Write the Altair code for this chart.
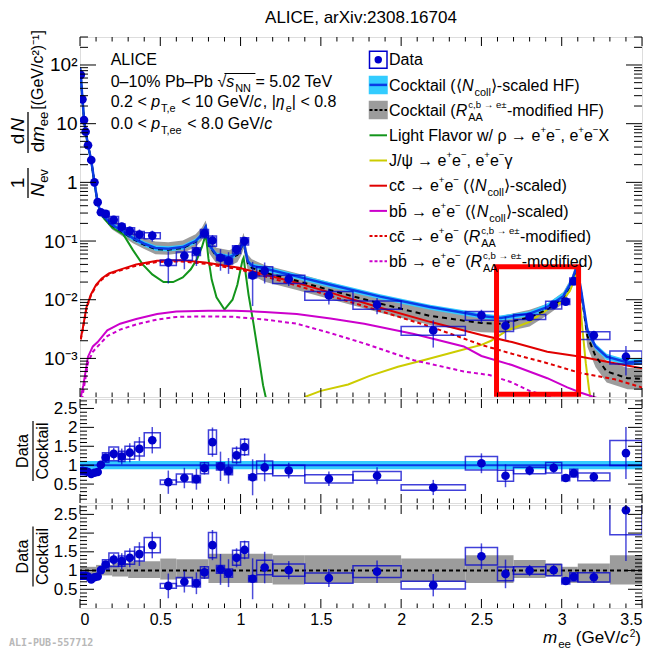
import altair as alt
import pandas as pd

FONT = "Liberation Sans"
W, H0, H1, H2 = 562, 360, 104, 103

DATA_BLUE = "#0000cc"
LINE_BLUE = "#0a3ce6"
CYAN = "#33ccff"
GRAY = "#9c9c9c"
GREEN = "#13951b"
YELLOW = "#cccc00"
RED = "#e00000"
MAGENTA = "#cc00cc"

# ---------------- measured data points ----------------
pt_m = [0.005, 0.015, 0.025, 0.035, 0.05, 0.07, 0.09, 0.11, 0.13, 0.16,
        0.21, 0.26, 0.31, 0.37, 0.45, 0.55, 0.65, 0.725, 0.775, 0.825,
        0.875, 0.925, 0.975, 1.025, 1.075, 1.15, 1.30, 1.55, 1.85, 2.20,
        2.50, 2.65, 2.80, 2.95, 3.025, 3.075, 3.20, 3.40]
pt_lo = [0.0, 0.01, 0.02, 0.03, 0.04, 0.06, 0.08, 0.10, 0.12, 0.14,
         0.18, 0.24, 0.28, 0.34, 0.40, 0.50, 0.60, 0.70, 0.75, 0.80,
         0.85, 0.90, 0.95, 1.00, 1.05, 1.10, 1.20, 1.40, 1.70, 2.00,
         2.40, 2.60, 2.70, 2.90, 3.00, 3.05, 3.10, 3.30]
pt_hi = [0.01, 0.02, 0.03, 0.04, 0.06, 0.08, 0.10, 0.12, 0.14, 0.18,
         0.24, 0.28, 0.34, 0.40, 0.50, 0.60, 0.70, 0.75, 0.80, 0.85,
         0.90, 0.95, 1.00, 1.05, 1.10, 1.20, 1.40, 1.70, 2.00, 2.40,
         2.60, 2.70, 2.90, 3.00, 3.05, 3.10, 3.30, 3.50]
pt_y = [68, 26, 11.5, 7.3, 4.3, 2.4, 1.0, 0.46, 0.31, 0.29,
        0.23, 0.176, 0.149, 0.129, 0.124, 0.043, 0.056, 0.067, 0.136, 0.102,
        0.052, 0.046, 0.072, 0.100, 0.026, 0.031, 0.0225, 0.0118, 0.0082, 0.0030,
        0.0054, 0.0036, 0.0051, 0.0082, 0.0093, 0.0207, 0.00248, 0.00107]
pt_stat = [0.03, 0.03, 0.03, 0.03, 0.03, 0.03, 0.03, 0.04, 0.05, 0.08,
           0.12, 0.17, 0.19, 0.22, 0.21, 0.56, 0.41, 0.44, 0.18, 0.24,
           0.40, 0.40, 0.19, 0.16, 0.70, 0.39, 0.24, 0.30, 0.31, 0.49,
           0.25, 0.42, 0.15, 0.14, 0.06, 0.06, 0.19, 0.52]
pt_syst = [0.05, 0.05, 0.05, 0.05, 0.05, 0.05, 0.05, 0.06, 0.07, 0.11,
           0.14, 0.11, 0.13, 0.13, 0.12, 0.11, 0.16, 0.15, 0.16, 0.20,
           0.10, 0.12, 0.15, 0.14, 0.10, 0.18, 0.16, 0.17, 0.16, 0.17,
           0.17, 0.20, 0.10, 0.15, 0.11, 0.13, 0.15, 0.25]
pt_r1 = [0.84, 0.85, 0.84, 0.84, 0.82, 0.77, 0.80, 0.82, 1.01, 1.20,
         1.30, 1.23, 1.33, 1.43, 1.66, 0.55, 0.66, 0.63, 0.92, 1.61,
         0.97, 0.85, 1.26, 1.48, 0.68, 0.94, 0.86, 0.64, 0.72, 0.41,
         1.05, 0.72, 0.86, 0.93, 0.66, 0.79, 0.69, 1.32]
pt_r2 = [0.86, 0.86, 0.86, 0.86, 0.84, 0.76, 0.82, 0.84, 1.01, 1.16,
         1.29, 1.25, 1.34, 1.44, 1.68, 0.59, 0.70, 0.66, 0.95, 1.68,
         1.03, 0.93, 1.34, 1.55, 0.78, 1.08, 1.01, 0.80, 0.97, 0.61,
         1.38, 0.91, 1.00, 1.01, 0.72, 0.83, 0.82, 2.61]

# ---------------- cocktails ----------------
cock_m = [0.0, 0.005, 0.015, 0.025, 0.035, 0.05, 0.07, 0.09, 0.11, 0.13,
          0.15, 0.2, 0.26, 0.33, 0.4, 0.47, 0.55, 0.64, 0.72, 0.76,
          0.775, 0.783, 0.79, 0.805, 0.85, 0.93, 0.98, 1.005, 1.019, 1.03,
          1.045, 1.07, 1.15, 1.35, 1.56, 1.87, 2.18, 2.39, 2.5, 2.62,
          2.8, 2.91, 3.01, 3.06, 3.09, 3.1, 3.12, 3.16, 3.21, 3.28,
          3.41, 3.5]
cock_ncoll = [90, 66, 27, 12, 7.4, 4.3, 2.35, 1.0, 0.45, 0.3,
              0.26, 0.19, 0.15, 0.112, 0.09, 0.076, 0.074, 0.079, 0.1, 0.13,
              0.16, 0.175, 0.14, 0.085, 0.058, 0.053, 0.061, 0.08, 0.102, 0.07,
              0.045, 0.038, 0.034, 0.025, 0.018, 0.0113, 0.0075, 0.006, 0.0053, 0.0049,
              0.0058, 0.0075, 0.0115, 0.02, 0.034, 0.03, 0.015, 0.003, 0.0016, 0.00107,
              0.00085, 0.0009]
cock_raa = [90, 66, 27, 12, 7.4, 4.3, 2.35, 1.0, 0.45, 0.3,
            0.255, 0.185, 0.145, 0.108, 0.086, 0.073, 0.071, 0.076, 0.097, 0.127,
            0.157, 0.172, 0.137, 0.082, 0.055, 0.05, 0.058, 0.077, 0.099, 0.067,
            0.042, 0.035, 0.029, 0.021, 0.0145, 0.0086, 0.0053, 0.0044, 0.004, 0.0039,
            0.005, 0.0068, 0.0108, 0.019, 0.033, 0.029, 0.014, 0.0024, 0.0011, 0.0006,
            0.00046, 0.00045]
cyan_rel = [0.06, 0.06, 0.06, 0.06, 0.06, 0.06, 0.06, 0.06, 0.06, 0.06,
            0.06, 0.10, 0.10, 0.10, 0.10, 0.10, 0.10, 0.10, 0.10, 0.10,
            0.10, 0.10, 0.10, 0.10, 0.10, 0.10, 0.10, 0.10, 0.10, 0.10,
            0.10, 0.10, 0.10, 0.10, 0.10, 0.10, 0.10, 0.10, 0.10, 0.10,
            0.10, 0.15, 0.15, 0.15, 0.15, 0.15, 0.15, 0.12, 0.12, 0.12,
            0.12, 0.12]
gray_lo_rel = [0.08, 0.08, 0.08, 0.08, 0.08, 0.08, 0.08, 0.08, 0.08, 0.08,
               0.08, 0.15, 0.15, 0.15, 0.15, 0.18, 0.18, 0.18, 0.18, 0.18,
               0.20, 0.20, 0.20, 0.25, 0.25, 0.25, 0.25, 0.25, 0.25, 0.25,
               0.25, 0.25, 0.30, 0.30, 0.30, 0.30, 0.30, 0.30, 0.30, 0.30,
               0.30, 0.20, 0.20, 0.20, 0.20, 0.20, 0.20, 0.35, 0.35, 0.35,
               0.35, 0.35]
gray_hi_rel = [0.08, 0.08, 0.08, 0.08, 0.08, 0.08, 0.08, 0.08, 0.08, 0.08,
               0.08, 0.30, 0.30, 0.30, 0.30, 0.35, 0.35, 0.35, 0.35, 0.35,
               0.30, 0.30, 0.30, 0.40, 0.40, 0.40, 0.40, 0.40, 0.40, 0.40,
               0.40, 0.40, 0.35, 0.35, 0.35, 0.35, 0.35, 0.35, 0.35, 0.35,
               0.35, 0.25, 0.25, 0.25, 0.25, 0.25, 0.25, 0.50, 0.50, 0.50,
               0.50, 0.50]

# ---------------- components ----------------
lf_m = [0.0, 0.005, 0.015, 0.025, 0.035, 0.05, 0.07, 0.09, 0.11, 0.13,
        0.15, 0.2, 0.27, 0.33, 0.39, 0.45, 0.52, 0.58, 0.64, 0.69,
        0.73, 0.76, 0.775, 0.783, 0.79, 0.80, 0.82, 0.85, 0.9, 0.95,
        0.98, 1.0, 1.012, 1.019, 1.03, 1.05, 1.08, 1.11, 1.14, 1.17]
lf_v = [90, 65, 26, 12, 7.3, 4.2, 2.3, 0.95, 0.44, 0.29,
        0.24, 0.17, 0.13, 0.07, 0.04, 0.027, 0.020, 0.020, 0.024, 0.033,
        0.05, 0.08, 0.11, 0.125, 0.09, 0.05, 0.022, 0.011, 0.0068, 0.010,
        0.018, 0.033, 0.047, 0.052, 0.03, 0.012, 0.004, 0.0012, 3.5e-4, 1.5e-4]
jp_m = [1.40, 1.5, 1.67, 1.8, 1.98, 2.15, 2.29, 2.4, 2.5, 2.56, 2.66,
        2.8, 2.91, 2.99, 3.05, 3.08, 3.095, 3.11, 3.13, 3.15, 3.17, 3.19]
jp_v = [2.2e-4, 2.8e-4, 3.6e-4, 5e-4, 7.2e-4, 9.5e-4, 1.2e-3, 1.45e-3, 1.7e-3, 2.0e-3, 3.0e-3,
        4.2e-3, 6.8e-3, 8.9e-3, 0.014, 0.022, 0.031, 0.012, 3.0e-3, 8.3e-4, 3.0e-4, 1.5e-4]
cc_m = [0.005, 0.017, 0.04, 0.068, 0.1, 0.135, 0.18, 0.24, 0.35, 0.48, 0.63, 0.78,
        0.99, 1.15, 1.35, 1.56, 1.87, 2.18, 2.5, 2.69, 2.91, 3.12, 3.33, 3.5]
cc_v = [0.0022, 0.0032, 0.0074, 0.0123, 0.018, 0.023, 0.028, 0.032, 0.040, 0.046, 0.047, 0.043,
        0.035, 0.027, 0.0195, 0.0132, 0.0073, 0.0042, 0.0025, 0.0019, 0.0013, 0.00107, 0.00083, 0.00068]
ccr_v = [0.0021, 0.0031, 0.0071, 0.0118, 0.0172, 0.022, 0.027, 0.031, 0.038, 0.044, 0.045, 0.041,
         0.033, 0.025, 0.0175, 0.0116, 0.0064, 0.0035, 0.0017, 0.0012, 0.00083, 0.00056, 0.00044, 0.00032]
bb_m = [0.005, 0.02, 0.05, 0.08, 0.11, 0.17, 0.25, 0.35, 0.48, 0.6, 0.8, 0.96, 1.15,
        1.35, 1.56, 1.77, 2.08, 2.39, 2.5, 2.69, 2.91, 3.035, 3.12, 3.2, 3.3]
bb_v = [2.2e-4, 3.4e-4, 1.07e-3, 1.6e-3, 1.9e-3, 3.0e-3, 3.9e-3, 4.7e-3, 5.7e-3, 6.3e-3, 6.5e-3, 6.5e-3, 6.2e-3,
        5.7e-3, 4.8e-3, 3.9e-3, 2.6e-3, 1.6e-3, 1.1e-3, 7.7e-4, 4.6e-4, 3.2e-4, 2.6e-4, 2.2e-4, 1.8e-4]
bbr_m = [0.005, 0.02, 0.05, 0.08, 0.11, 0.17, 0.25, 0.35, 0.48, 0.6, 0.8, 0.96,
         1.15, 1.35, 1.56, 1.77, 2.08, 2.39, 2.55, 2.69, 2.8, 2.9, 3.0]
bbr_v = [1.5e-4, 2.7e-4, 8.5e-4, 1.3e-3, 1.6e-3, 2.4e-3, 3.1e-3, 3.8e-3, 4.6e-3, 5.1e-3, 5.2e-3, 5.1e-3,
         4.6e-3, 3.9e-3, 2.7e-3, 1.8e-3, 9.3e-4, 6e-4, 5.2e-4, 3.9e-4, 2.8e-4, 2.3e-4, 2.0e-4]

# ratio-panel uncertainty bands (per bin)
g2_x0 = [0.0, 0.1, 0.2, 0.3, 0.5, 0.6, 0.8, 1.2, 1.4, 2.0, 2.4, 2.7, 2.9, 3.0, 3.1, 3.3]
g2_x1 = [0.1, 0.2, 0.3, 0.5, 0.6, 0.8, 1.2, 1.4, 2.0, 2.4, 2.7, 2.9, 3.0, 3.1, 3.3, 3.5]
g2_up = [1.10, 1.15, 1.20, 1.25, 1.32, 1.30, 1.45, 1.41, 1.41, 1.32, 1.41, 1.28, 1.19, 1.10, 1.19, 1.41]
g2_dn = [0.90, 0.87, 0.84, 0.80, 0.76, 0.78, 0.67, 0.63, 0.67, 0.70, 0.67, 0.80, 0.84, 0.67, 0.67, 0.63]
c1_x0 = [0.0]
c1_x1 = [3.5]
c1_up = [1.11]
c1_dn = [0.89]

# red highlight rectangle
hl_m = [2.594, 3.105]
hl_v = [2.45e-4, 0.0366]

x_major = [0.0, 0.5, 1.0, 1.5, 2.0, 2.5, 3.0, 3.5]
x_minor = [round(0.1 * k, 1) for k in range(1, 35) if k % 5]
y_major = [1e-3, 1e-2, 1e-1, 1.0, 10.0, 100.0]
y_minor = [k * 10.0 ** e for e in range(-4, 3) for k in range(2, 10) if 2.2e-4 <= k * 10.0 ** e <= 300]
r_major = [0.5, 1.0, 1.5, 2.0, 2.5]
r_minor = [round(0.1 * k, 1) for k in range(1, 28) if k % 5]

# ---------------- frames ----------------
pts = pd.DataFrame(dict(m=pt_m, lo=pt_lo, hi=pt_hi, y=pt_y))
st = pd.Series(pt_stat)
sy = pd.Series(pt_syst)
pts["elo"] = pts.y * (1 - st)
pts["ehi"] = pts.y * (1 + st)
pts["slo"] = pts.y * (1 - sy)
pts["shi"] = pts.y * (1 + sy)
for k, r in (("r1", pt_r1), ("r2", pt_r2)):
    rs = pd.Series(r)
    pts[k] = rs
    pts[k + "elo"] = rs * (1 - st)
    pts[k + "ehi"] = rs * (1 + st)
    pts[k + "slo"] = rs * (1 - sy)
    pts[k + "shi"] = rs * (1 + sy)

cock = pd.DataFrame(dict(m=cock_m, ncoll=cock_ncoll, raa=cock_raa))
cock["cy_lo"] = cock.ncoll * (1 - pd.Series(cyan_rel))
cock["cy_hi"] = cock.ncoll * (1 + pd.Series(cyan_rel))
cock["g_lo"] = cock.raa * (1 - pd.Series(gray_lo_rel))
cock["g_hi"] = cock.raa * (1 + pd.Series(gray_hi_rel))

XS = alt.Scale(domain=[0, 3.5], nice=False, zero=False)
YS = alt.Scale(type="log", domain=[2.2e-4, 300], nice=False)
RS = alt.Scale(domain=[0, 2.75], nice=False, zero=False)

YMA = alt.Axis(values=y_major, title=None, ticks=False, domain=False, grid=False,
               labelFont=FONT, labelFontSize=19, labelColor="black", labelPadding=3,
               labelExpr="datum.value > 50 ? '10\u00b2' : datum.value > 5 ? '10' : datum.value > 0.5 ? '1' : "
                         "datum.value > 0.05 ? '10\u207b\u00b9' : datum.value > 0.005 ? '10\u207b\u00b2' : '10\u207b\u00b3'")
RA = alt.Axis(values=r_major, format="~g", title=None, ticks=False, domain=False, grid=False,
              labelFont=FONT, labelFontSize=17, labelColor="black", labelPadding=3)
XA = alt.Axis(values=x_major, format="~g", title=None, ticks=False, domain=False, grid=False,
              labelFont=FONT, labelFontSize=16, labelColor="black", labelPadding=3, labelOverlap=False)


def X(f, axis=None):
    return alt.X(f, type="quantitative", scale=XS, axis=axis)


def pxs(n):
    return alt.Scale(domain=[0, n], range=[0, n], nice=False, zero=False)


def tick_layers(H, yscale, yaxis, xaxis, ymaj, ymin, ylen):
    out = []
    for vals, L in ((x_major, 9), (x_minor, 4.5)):
        df = pd.DataFrame({"t": vals})
        for a, b in ((H, H - L), (0, L)):
            out.append(alt.Chart(df).mark_rule(color="black", strokeWidth=1).encode(
                x=X("t", xaxis), y=alt.value(a), y2=alt.value(b)))
    for vals, L in ((ymaj, ylen), (ymin, ylen / 2)):
        df = pd.DataFrame({"t": vals})
        for a, b in ((0, L), (W, W - L)):
            out.append(alt.Chart(df).mark_rule(color="black", strokeWidth=1).encode(
                y=alt.Y("t:Q", scale=yscale, axis=yaxis), x=alt.value(a), x2=alt.value(b)))
    return out


# ---------------- rich text helper ----------------
AW = {" ": 278, "!": 278, "%": 889, "(": 333, ")": 333, ",": 278, "-": 333,
      ".": 278, "/": 278, ":": 278, "<": 584, "=": 584, ">": 584, "|": 260,
      "[": 278, "]": 278, "+": 584, "\u2212": 584, "\u2013": 556, "\u2192": 1000,
      "\u00b1": 584, "\u27e8": 390, "\u27e9": 390, "\u221a": 549, "\u03c1": 570,
      "\u03c8": 700, "\u03b3": 500, "\u03b7": 556, "\u0304": 0, "\u00b2": 333,
      "A": 667, "C": 722, "D": 722, "E": 667, "F": 611, "G": 778, "H": 722, "I": 278,
      "J": 500, "L": 556, "N": 722, "P": 667, "R": 722, "T": 611, "V": 667, "X": 667,
      "a": 556, "b": 556, "c": 500, "d": 556, "e": 556, "f": 278, "g": 556, "h": 556,
      "i": 222, "k": 500, "l": 222, "m": 833, "n": 556, "o": 556, "p": 556, "r": 333,
      "s": 500, "t": 278, "u": 556, "v": 500, "w": 722, "y": 500}


def tw(s, size):
    return sum(AW.get(ch, 556) for ch in s) * size / 1000.0


def rich(x, y, parts, base, color="black", sup_raise=0.5):
    rows, xs = [], []
    for p in parts:
        text, kind = p[0], p[1]
        noadv = len(p) > 2
        if kind == "n":
            size, dy, it = base, 0.0, False
        elif kind == "i":
            size, dy, it = base, 0.0, True
        elif kind == "sub":
            size, dy, it = round(base * 0.68, 1), round(base * 0.32, 1), False
        else:
            size, dy, it = round(base * 0.6, 1), -round(base * sup_raise, 1), False
        lead = len(text) - len(text.lstrip(" "))
        if lead:
            x += tw(" " * lead, size)
            text = text.lstrip(" ")
        xs.append(x)
        rows.append(dict(x=x, y=y + dy, text=text, size=size, it=it, rot=False, angle=0, color=color))
        if not noadv:
            x += tw(text, size) + (1.0 if it else 0.0)
    xs.append(x)
    return rows, xs


def text_layers(rows, H):
    out = []
    df = pd.DataFrame(rows)
    for rot in (False, True):
        for it in (False, True):
            sub = df[(df.rot == rot) & (df.it == it)][["x", "y", "text", "size", "angle", "color"]]
            if len(sub) == 0:
                continue
            kw = dict(font=FONT, align="center" if rot else "left",
                      baseline="middle" if rot else "alphabetic")
            if it:
                kw["fontStyle"] = "italic"
            out.append(alt.Chart(sub).mark_text(**kw).encode(
                x=alt.X("x:Q", scale=pxs(W), axis=None),
                y=alt.Y("y:Q", scale=pxs(H), axis=None),
                text="text:N",
                size=alt.Size("size:Q", scale=None, legend=None),
                angle=alt.Angle("angle:Q", scale=None),
                color=alt.Color("color:N", scale=None, legend=None)))
    return out


def rot(text, x, y, size, it=False):
    return dict(x=x, y=y, text=text, size=size, it=it, rot=True, angle=270, color="black")


def px_rules(df, H, dash=None):
    kw = dict()
    if dash:
        kw["strokeDash"] = dash
    return alt.Chart(df).mark_rule(**kw).encode(
        x=alt.X("x:Q", scale=pxs(W), axis=None), x2="x2:Q",
        y=alt.Y("y:Q", scale=pxs(H), axis=None), y2="y2:Q",
        color=alt.Color("color:N", scale=None, legend=None),
        strokeWidth=alt.StrokeWidth("w:Q", scale=None, legend=None))


# ---------------- main panel ----------------
main_layers = [
    alt.Chart(cock).mark_area(color=GRAY, clip=True).encode(
        x=X("m"), y=alt.Y("g_lo:Q", scale=YS, axis=YMA), y2="g_hi:Q"),
    alt.Chart(cock).mark_area(color=CYAN, clip=True).encode(
        x=X("m"), y=alt.Y("cy_lo:Q", scale=YS, axis=YMA), y2="cy_hi:Q"),
]
comps = [(lf_m, lf_v, GREEN, None), (jp_m, jp_v, YELLOW, None), (cc_m, cc_v, RED, None),
         (bb_m, bb_v, MAGENTA, None), (cc_m, ccr_v, RED, [4, 3]), (bbr_m, bbr_v, MAGENTA, [4, 3])]
for mm, vv, col, dash in comps:
    kw = dict(color=col, strokeWidth=2, clip=True)
    if dash:
        kw["strokeDash"] = dash
    main_layers.append(alt.Chart(pd.DataFrame(dict(m=mm, v=vv))).mark_line(**kw).encode(
        x=X("m"), y=alt.Y("v:Q", scale=YS, axis=YMA)))
main_layers += [
    alt.Chart(cock).mark_line(color="black", strokeWidth=2, strokeDash=[5, 4], clip=True).encode(
        x=X("m"), y=alt.Y("raa:Q", scale=YS, axis=YMA)),
    alt.Chart(cock).mark_line(color=LINE_BLUE, strokeWidth=2.5, clip=True).encode(
        x=X("m"), y=alt.Y("ncoll:Q", scale=YS, axis=YMA)),
    alt.Chart(pts).mark_rect(fillOpacity=0, stroke=DATA_BLUE, strokeWidth=1.5, strokeOpacity=0.75, clip=True).encode(
        x=X("lo"), x2="hi:Q", y=alt.Y("slo:Q", scale=YS, axis=YMA), y2="shi:Q"),
    alt.Chart(pts).mark_rule(color=DATA_BLUE, strokeWidth=1.5, opacity=0.7, clip=True).encode(
        x=X("m"), y=alt.Y("elo:Q", scale=YS, axis=YMA), y2="ehi:Q"),
    alt.Chart(pts).mark_circle(color=DATA_BLUE, size=75, opacity=1, clip=True).encode(
        x=X("m"), y=alt.Y("y:Q", scale=YS, axis=YMA)),
    alt.Chart(pd.DataFrame(dict(x0=[hl_m[0]], x1=[hl_m[1]], y0=[hl_v[0]], y1=[hl_v[1]]))).mark_rect(
        fillOpacity=0, stroke="#ff0000", strokeWidth=5).encode(
        x=X("x0"), x2="x1:Q", y=alt.Y("y0:Q", scale=YS, axis=YMA), y2="y1:Q"),
]
main_layers += tick_layers(H0, YS, YMA, None, y_major, y_minor, 16)

# annotations (pixel coordinates inside the main panel)
TL = 30.7
ann = []
r, _ = rich(TL, 28.3, [("ALICE", "n")], 16)
ann += r
r, xs2 = rich(TL, 50.0, [("0\u201310% Pb\u2013Pb ", "n"), ("\u221a", "n"), ("s", "i"), ("NN", "sub"),
                          (" = 5.02 TeV", "n")], 16)
ann += r
r, _ = rich(TL, 70.0, [("0.2 < ", "n"), ("p", "i"), ("T,e", "sub"), (" < 10 GeV/", "n"), ("c", "i"),
                       (", |", "n"), ("\u03b7", "i"), ("e", "sub"), ("| < 0.8", "n")], 16)
ann += r
r, _ = rich(TL, 92.3, [("0.0 < ", "n"), ("p", "i"), ("T,ee", "sub"), (" < 8.0 GeV/", "n"), ("c", "i")], 16)
ann += r

LX = 309.0
EPM = [("e", "n"), ("+", "sup"), ("e", "n"), ("\u2212", "sup")]
leg_parts = [
    [("Data", "n")],
    [("Cocktail (\u27e8", "n"), ("N", "i"), ("coll", "sub"), ("\u27e9-scaled HF)", "n")],
    [("Cocktail (", "n"), ("R", "i"), ("AA", "sub", 1), ("c,b \u2192 e\u00b1", "sup"), ("-modified HF)", "n")],
    [("Light Flavor w/ \u03c1 \u2192 ", "n")] + EPM + [(", ", "n")] + EPM + [("X", "n")],
    [("J/\u03c8 \u2192 ", "n")] + EPM + [(", ", "n")] + EPM + [("\u03b3", "n")],
    [("cc\u0304 \u2192 ", "n")] + EPM + [(" (\u27e8", "n"), ("N", "i"), ("coll", "sub"), ("\u27e9-scaled)", "n")],
    [("bb\u0304 \u2192 ", "n")] + EPM + [(" (\u27e8", "n"), ("N", "i"), ("coll", "sub"), ("\u27e9-scaled)", "n")],
    [("cc\u0304 \u2192 ", "n")] + EPM + [(" (", "n"), ("R", "i"), ("AA", "sub", 1), ("c,b \u2192 e\u00b1", "sup"),
                                         ("-modified)", "n")],
    [("bb\u0304 \u2192 ", "n")] + EPM + [(" (", "n"), ("R", "i"), ("AA", "sub", 1), ("c,b \u2192 e\u00b1", "sup"),
                                         ("-modified)", "n")],
]
row_y = [22.7 + 25.2 * i for i in range(9)]
for i, parts in enumerate(leg_parts):
    r, _ = rich(LX, row_y[i] + 5.6, parts, 16)
    ann += r

# rotated y-axis title pieces
ann += [rot("1", -62, 146, 19), rot("N", -42, 153, 19, True), rot("ev", -36.5, 139, 13),
        rot("d", -62, 102, 19), rot("N", -62, 88, 19, True),
        rot("d", -42, 110, 19), rot("m", -42, 97, 19, True), rot("ee", -36.5, 82, 13),
        rot("[(GeV/c\u00b2)\u207b\u00b9]", -42, 33, 16)]

SX0, SX1 = 289.5, 307.0
leg_rect = pd.DataFrame(dict(
    x=[SX0, SX0, SX0], x2=[SX1, SX1, SX1],
    y=[row_y[0] - 8.5, row_y[1] - 8.5, row_y[2] - 8.5], y2=[row_y[0] + 8.5, row_y[1] + 8.5, row_y[2] + 8.5],
    fill=["white", CYAN, GRAY], stroke=[DATA_BLUE, CYAN, GRAY]))
solid_rules = pd.DataFrame(dict(
    x=[SX0] * 5, x2=[SX1] * 5,
    y=[row_y[1], row_y[3], row_y[4], row_y[5], row_y[6]],
    y2=[row_y[1], row_y[3], row_y[4], row_y[5], row_y[6]],
    color=[LINE_BLUE, GREEN, YELLOW, RED, MAGENTA], w=[2.5, 2, 2, 2, 2]))
solid_rules = pd.concat([solid_rules, pd.DataFrame(dict(
    x=[-52, -52, xs2[1] + 7], x2=[-52, -52, xs2[4]],
    y=[131, 75, 50 - 13.5], y2=[161, 116, 50 - 13.5],
    color=["black", "black", "black"], w=[1.3, 1.3, 1.0]))], ignore_index=True)
dash_rules = pd.DataFrame(dict(
    x=[SX0] * 3, x2=[SX1] * 3, y=[row_y[2], row_y[7], row_y[8]], y2=[row_y[2], row_y[7], row_y[8]],
    color=["black", RED, MAGENTA], w=[2, 2, 2]))

ann_layers = text_layers(ann, H0) + [
    alt.Chart(leg_rect).mark_rect(strokeWidth=1.5).encode(
        x=alt.X("x:Q", scale=pxs(W), axis=None), x2="x2:Q",
        y=alt.Y("y:Q", scale=pxs(H0), axis=None), y2="y2:Q",
        fill=alt.Fill("fill:N", scale=None, legend=None),
        stroke=alt.Stroke("stroke:N", scale=None, legend=None)),
    px_rules(solid_rules, H0),
    px_rules(dash_rules, H0, [3, 2]),
    alt.Chart(pd.DataFrame(dict(x=[(SX0 + SX1) / 2], y=[row_y[0]]))).mark_circle(
        size=55, color=DATA_BLUE, opacity=1).encode(
        x=alt.X("x:Q", scale=pxs(W), axis=None), y=alt.Y("y:Q", scale=pxs(H0), axis=None)),
]

main = alt.layer(alt.layer(*main_layers), alt.layer(*ann_layers)).resolve_scale(
    x="independent", y="independent").properties(
    width=W, height=H0,
    title=alt.TitleParams("ALICE, arXiv:2308.16704", font=FONT, fontSize=17, fontWeight="normal",
                          anchor="middle", frame="group", offset=3, color="black"))


# ---------------- ratio panels ----------------
def ratio_panel(H, key, band_df, band_color, line_layer, xaxis, extra_ann):
    lay = [
        alt.Chart(band_df).mark_rect(color=band_color, clip=True).encode(
            x=X("x0", xaxis), x2="x1:Q", y=alt.Y("dn:Q", scale=RS, axis=RA), y2="up:Q"),
        line_layer,
        alt.Chart(pts).mark_rect(fillOpacity=0, stroke=DATA_BLUE, strokeWidth=1.5, strokeOpacity=0.75,
                                 clip=True).encode(
            x=X("lo", xaxis), x2="hi:Q", y=alt.Y(key + "slo:Q", scale=RS, axis=RA), y2=key + "shi:Q"),
        alt.Chart(pts).mark_rule(color=DATA_BLUE, strokeWidth=1.5, opacity=0.7, clip=True).encode(
            x=X("m", xaxis), y=alt.Y(key + "elo:Q", scale=RS, axis=RA), y2=key + "ehi:Q"),
        alt.Chart(pts).mark_circle(color=DATA_BLUE, size=75, opacity=1, clip=True).encode(
            x=X("m", xaxis), y=alt.Y(key + ":Q", scale=RS, axis=RA)),
    ]
    lay += tick_layers(H, RS, RA, xaxis, r_major, r_minor, 14)
    rows = [rot("Data", -57, H / 2, 16), rot("Cocktail", -37, H / 2, 16)] + extra_ann
    bars = pd.DataFrame(dict(x=[-47], x2=[-47], y=[H / 2 - 30], y2=[H / 2 + 30], color=["black"], w=[1.2]))
    al = text_layers(rows, H) + [px_rules(bars, H)]
    return al, lay


one = pd.DataFrame(dict(v=[1.0]))
line1 = alt.Chart(one).mark_rule(color=LINE_BLUE, strokeWidth=2).encode(y=alt.Y("v:Q", scale=RS, axis=RA))
line2 = alt.Chart(one).mark_rule(color="black", strokeWidth=2, strokeDash=[4, 3]).encode(
    y=alt.Y("v:Q", scale=RS, axis=RA))
band1 = pd.DataFrame(dict(x0=c1_x0, x1=c1_x1, up=c1_up, dn=c1_dn))
band2 = pd.DataFrame(dict(x0=g2_x0, x1=g2_x1, up=g2_up, dn=g2_dn))

al1, lay1 = ratio_panel(H1, "r1", band1, CYAN, line1, None, [])
r1 = alt.layer(alt.layer(*lay1), alt.layer(*al1)).resolve_scale(
    x="independent", y="independent").properties(width=W, height=H1)

xt_parts = [("m", "i"), ("ee", "sub"), (" (GeV/", "n"), ("c", "i"), ("2", "sup"), (")", "n")]
_, xt_xs = rich(0, 0, xt_parts, 17, sup_raise=0.36)
xt_rows, _ = rich(W - xt_xs[-1] - 1, 138, xt_parts, 17, sup_raise=0.36)
al2, lay2 = ratio_panel(H2, "r2", band2, GRAY, line2, XA, xt_rows)
ali = alt.Chart(pd.DataFrame(dict(x=[-71], y=[141], t=["ALI-PUB-557712"]))).mark_text(
    font="DejaVu Sans Mono", fontSize=10, fontWeight="bold", color="#b8b8b8", align="left",
    baseline="alphabetic").encode(
    x=alt.X("x:Q", scale=pxs(W), axis=None), y=alt.Y("y:Q", scale=pxs(H2), axis=None), text="t:N")
r2 = alt.layer(alt.layer(*lay2), alt.layer(*(al2 + [ali]))).resolve_scale(
    x="independent", y="independent").properties(width=W, height=H2)

chart = alt.vconcat(main, r1, r2, spacing=0).properties(padding=0).configure_view(
    stroke="black", strokeWidth=1.6).configure(font=FONT, background="white")

chart.save("out.html", embed_options={"renderer": "svg", "actions": False})
